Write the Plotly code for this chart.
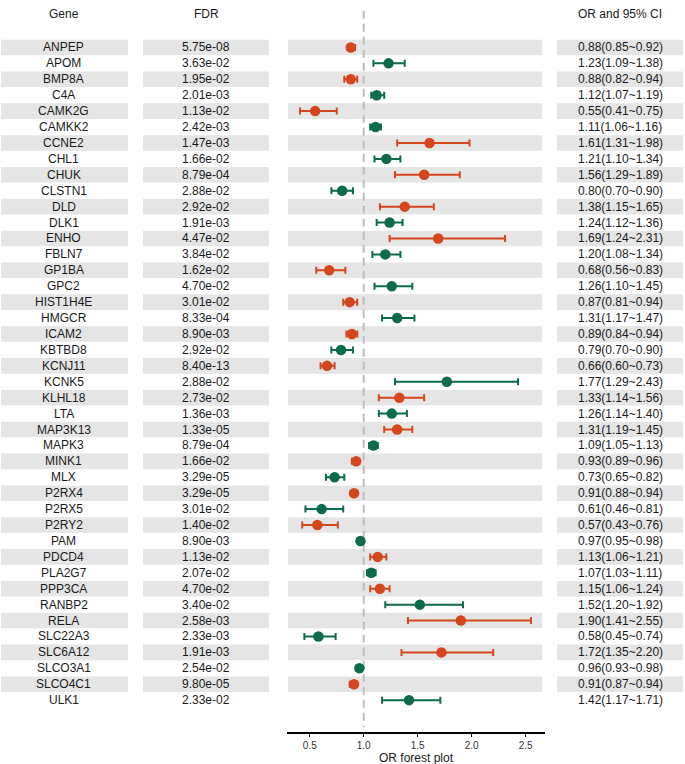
import plotly.graph_objects as go

genes = ["ANPEP","APOM","BMP8A","C4A","CAMK2G","CAMKK2","CCNE2","CHL1","CHUK","CLSTN1",
         "DLD","DLK1","ENHO","FBLN7","GP1BA","GPC2","HIST1H4E","HMGCR","ICAM2","KBTBD8",
         "KCNJ11","KCNK5","KLHL18","LTA","MAP3K13","MAPK3","MINK1","MLX","P2RX4","P2RX5",
         "P2RY2","PAM","PDCD4","PLA2G7","PPP3CA","RANBP2","RELA","SLC22A3","SLC6A12","SLCO3A1",
         "SLCO4C1","ULK1"]
fdr = ["5.75e-08","3.63e-02","1.95e-02","2.01e-03","1.13e-02","2.42e-03","1.47e-03","1.66e-02","8.79e-04","2.88e-02",
       "2.92e-02","1.91e-03","4.47e-02","3.84e-02","1.62e-02","4.70e-02","3.01e-02","8.33e-04","8.90e-03","2.92e-02",
       "8.40e-13","2.88e-02","2.73e-02","1.36e-03","1.33e-05","8.79e-04","1.66e-02","3.29e-05","3.29e-05","3.01e-02",
       "1.40e-02","8.90e-03","1.13e-02","2.07e-02","4.70e-02","3.40e-02","2.58e-03","2.33e-03","1.91e-03","2.54e-02",
       "9.80e-05","2.33e-02"]
odds = [0.88,1.23,0.88,1.12,0.55,1.11,1.61,1.21,1.56,0.80,
        1.38,1.24,1.69,1.20,0.68,1.26,0.87,1.31,0.89,0.79,
        0.66,1.77,1.33,1.26,1.31,1.09,0.93,0.73,0.91,0.61,
        0.57,0.97,1.13,1.07,1.15,1.52,1.90,0.58,1.72,0.96,
        0.91,1.42]
lower = [0.85,1.09,0.82,1.07,0.41,1.06,1.31,1.10,1.29,0.70,
         1.15,1.12,1.24,1.08,0.56,1.10,0.81,1.17,0.84,0.70,
         0.60,1.29,1.14,1.14,1.19,1.05,0.89,0.65,0.88,0.46,
         0.43,0.95,1.06,1.03,1.06,1.20,1.41,0.45,1.35,0.93,
         0.87,1.17]
upper = [0.92,1.38,0.94,1.19,0.75,1.16,1.98,1.34,1.89,0.90,
         1.65,1.36,2.31,1.34,0.83,1.45,0.94,1.47,0.94,0.90,
         0.73,2.43,1.56,1.40,1.45,1.13,0.96,0.82,0.94,0.81,
         0.76,0.98,1.21,1.11,1.24,1.92,2.55,0.74,2.20,0.98,
         0.94,1.71]
headers = ["Gene", "FDR", "OR and 95% CI"]
x_ticks = [0.5, 1.0, 1.5, 2.0, 2.5]
x_title = "OR forest plot"

W, H = 685, 764
PLOT_H = 732
ORANGE = "#D4461B"
GREEN = "#0C6B48"
BAND = "#E5E5E5"
TXT = "#1A1A1A"
FONT = "Liberation Sans, Arial, sans-serif"

fig = go.Figure()

n = len(genes)
rows = list(range(n))

# background bands
col_spans = [(1, 128), (143, 269), (288, 542), (557, 683)]
for i in rows:
    if i % 2 == 0:
        for (a, b) in col_spans:
            fig.add_shape(type="rect", xref="paper", yref="y", x0=a / W, x1=b / W,
                          y0=i - 0.49, y1=i + 0.49, fillcolor=BAND, line_width=0, layer="below")

# reference line
fig.add_shape(type="line", xref="x", yref="y", x0=1, x1=1, y0=-2.3, y1=42.7,
              line=dict(color="#BDBDBD", width=2, dash="8px,5px"), layer="below")

for parity, color in [(0, ORANGE), (1, GREEN)]:
    idx = [i for i in rows if i % 2 == parity]
    fig.add_trace(go.Scatter(
        x=[odds[i] for i in idx], y=idx, mode="markers",
        marker=dict(symbol="circle", size=10.5, color=color),
        error_x=dict(type="data", symmetric=False,
                     array=[upper[i] - odds[i] for i in idx],
                     arrayminus=[odds[i] - lower[i] for i in idx],
                     color=color, thickness=2, width=3.5),
        showlegend=False, hoverinfo="skip"))

# text columns
centers = [64, 206, 620]
for i in rows:
    ortxt = f"{odds[i]:.2f}({lower[i]:.2f}~{upper[i]:.2f})"
    for cx, t in zip(centers, [genes[i], fdr[i], ortxt]):
        fig.add_annotation(x=cx / W, y=i, xref="paper", yref="y", text=t, showarrow=False,
                           xanchor="center", yanchor="middle",
                           font=dict(family=FONT, size=12, color=TXT))
for cx, t in zip(centers, headers):
    fig.add_annotation(x=cx / W, y=-2.1, xref="paper", yref="y", text=t, showarrow=False,
                       xanchor="center", yanchor="middle",
                       font=dict(family=FONT, size=12, color=TXT))

# x-axis title as annotation below tick labels
fig.add_annotation(x=(287 + 545) / 2 / W, y=(PLOT_H - 758) / PLOT_H, xref="paper", yref="paper",
                   text=x_title, showarrow=False, xanchor="center", yanchor="middle",
                   font=dict(family=FONT, size=12, color=TXT))

fig.update_layout(
    width=W, height=H, margin=dict(l=0, r=0, t=0, b=H - PLOT_H),
    plot_bgcolor="white", paper_bgcolor="white",
    font=dict(family=FONT, color=TXT),
    xaxis=dict(domain=[287 / W, 545 / W], range=[0.289, 2.68],
               tickvals=x_ticks, ticktext=[f"{v:.1f}" for v in x_ticks],
               showgrid=False, zeroline=False, showline=True, linecolor="black", linewidth=1.5,
               ticks="outside", ticklen=3, tickcolor="black", tickwidth=1,
               tickfont=dict(size=10, color="#333333", family=FONT)),
    yaxis=dict(range=[43.0, -2.98], visible=False, showgrid=False, zeroline=False),
)

fig.write_html("out.html")
